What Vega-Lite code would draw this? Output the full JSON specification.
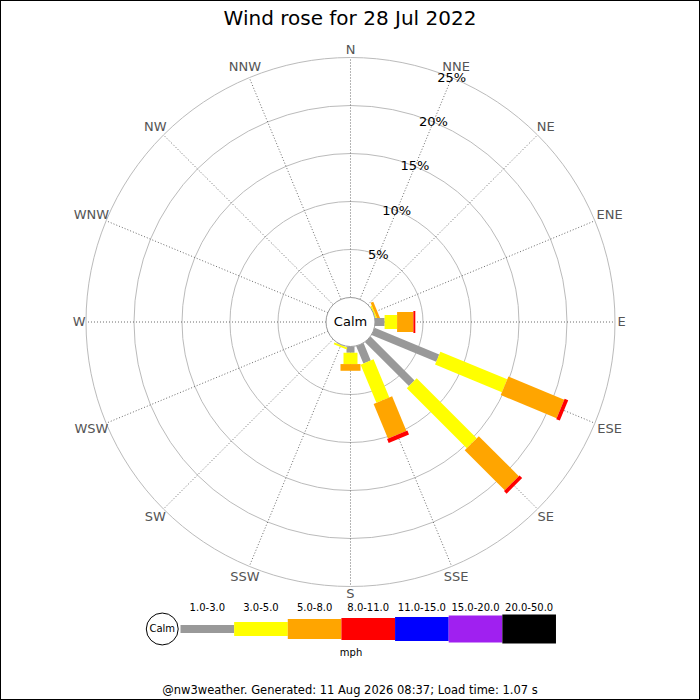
{
  "$schema": "https://vega.github.io/schema/vega-lite/v6.json",
  "width": 700,
  "height": 700,
  "padding": 0,
  "autosize": "none",
  "background": "white",
  "config": {
    "view": {"stroke": "black", "strokeWidth": 2},
    "font": "DejaVu Sans",
    "legend": {"disable": true}
  },
  "title": {
    "text": "Wind rose for 28 Jul 2022",
    "fontSize": 20,
    "fontWeight": "normal",
    "color": "black",
    "anchor": "middle",
    "frame": "group",
    "baseline": "alphabetic",
    "offset": -27,
    "dy": 18
  },
  "params": [{"name": "calm", "value": 2.552}],
  "datasets": {
    "bins": [
      {"bin": "1.0-3.0", "lo": 1},
      {"bin": "3.0-5.0", "lo": 3},
      {"bin": "5.0-8.0", "lo": 5},
      {"bin": "8.0-11.0", "lo": 8},
      {"bin": "11.0-15.0", "lo": 11},
      {"bin": "15.0-20.0", "lo": 15},
      {"bin": "20.0-50.0", "lo": 20}
    ],
    "dirs": [
      {"dir": "N", "angle": 0},
      {"dir": "NNE", "angle": 22.5},
      {"dir": "NE", "angle": 45},
      {"dir": "ENE", "angle": 67.5},
      {"dir": "E", "angle": 90},
      {"dir": "ESE", "angle": 112.5},
      {"dir": "SE", "angle": 135},
      {"dir": "SSE", "angle": 157.5},
      {"dir": "S", "angle": 180},
      {"dir": "SSW", "angle": 202.5},
      {"dir": "SW", "angle": 225},
      {"dir": "WSW", "angle": 247.5},
      {"dir": "W", "angle": 270},
      {"dir": "WNW", "angle": 292.5},
      {"dir": "NW", "angle": 315},
      {"dir": "NNW", "angle": 337.5}
    ],
    "rings": [
      {"pct": 5}, {"pct": 10}, {"pct": 15}, {"pct": 20}, {"pct": 25}
    ],
    "rose": [
      {"dir": "ENE", "bin": "3.0-5.0", "pct": 0.15},
      {"dir": "ENE", "bin": "5.0-8.0", "pct": 0.3},
      {"dir": "E", "bin": "1.0-3.0", "pct": 1.0},
      {"dir": "E", "bin": "3.0-5.0", "pct": 1.3},
      {"dir": "E", "bin": "5.0-8.0", "pct": 1.7},
      {"dir": "E", "bin": "8.0-11.0", "pct": 0.2},
      {"dir": "ESE", "bin": "1.0-3.0", "pct": 7.28},
      {"dir": "ESE", "bin": "3.0-5.0", "pct": 7.54},
      {"dir": "ESE", "bin": "5.0-8.0", "pct": 6.3},
      {"dir": "ESE", "bin": "8.0-11.0", "pct": 0.4},
      {"dir": "SE", "bin": "1.0-3.0", "pct": 6.47},
      {"dir": "SE", "bin": "3.0-5.0", "pct": 8.84},
      {"dir": "SE", "bin": "5.0-8.0", "pct": 5.9},
      {"dir": "SE", "bin": "8.0-11.0", "pct": 0.38},
      {"dir": "SSE", "bin": "1.0-3.0", "pct": 1.96},
      {"dir": "SSE", "bin": "3.0-5.0", "pct": 4.3},
      {"dir": "SSE", "bin": "5.0-8.0", "pct": 3.9},
      {"dir": "SSE", "bin": "8.0-11.0", "pct": 0.45},
      {"dir": "S", "bin": "1.0-3.0", "pct": 0.65},
      {"dir": "S", "bin": "3.0-5.0", "pct": 1.18},
      {"dir": "S", "bin": "5.0-8.0", "pct": 0.7},
      {"dir": "SSW", "bin": "1.0-3.0", "pct": 0.05},
      {"dir": "SSW", "bin": "3.0-5.0", "pct": 0.2}
    ]
  },
  "layer": [
    {
      "layer": [
        {
          "data": {"name": "rings"},
          "transform": [{"calculate": "calm + datum.pct", "as": "rr"}],
          "mark": {"type": "arc", "theta": 0, "theta2": 6.2832, "fillOpacity": 0, "stroke": "#bbbbbb", "strokeWidth": 1},
          "encoding": {
            "x": {"datum": 0, "type": "quantitative", "scale": {"domain": [-36.51, 36.406], "nice": false, "zero": false}, "axis": null},
            "y": {"datum": 0, "type": "quantitative", "scale": {"domain": [-39.375, 33.542], "nice": false, "zero": false}, "axis": null},
            "radius": {"field": "rr", "type": "quantitative", "stack": null, "scale": {"type": "linear", "domain": [0, 10], "range": [0, 96]}}
          }
        },
        {
          "data": {"name": "dirs"},
          "transform": [
            {"calculate": "calm * sin(datum.angle * PI / 180)", "as": "x0"},
            {"calculate": "calm * cos(datum.angle * PI / 180)", "as": "y0"},
            {"calculate": "(calm + 25) * sin(datum.angle * PI / 180)", "as": "x1"},
            {"calculate": "(calm + 25) * cos(datum.angle * PI / 180)", "as": "y1"}
          ],
          "mark": {"type": "rule", "stroke": "#444444", "strokeWidth": 0.8, "strokeDash": [1, 2]},
          "encoding": {
            "x": {"field": "x0", "type": "quantitative", "axis": null},
            "y": {"field": "y0", "type": "quantitative", "axis": null},
            "x2": {"field": "x1"},
            "y2": {"field": "y1"}
          }
        },
        {
          "data": {"name": "rose"},
          "transform": [
            {"lookup": "dir", "from": {"data": {"name": "dirs"}, "key": "dir", "fields": ["angle"]}},
            {"lookup": "bin", "from": {"data": {"name": "bins"}, "key": "bin", "fields": ["lo"]}},
            {"stack": "pct", "groupby": ["dir"], "sort": [{"field": "lo", "order": "ascending"}], "as": ["p0", "p1"]},
            {"calculate": "(calm + datum.p0) * sin(datum.angle * PI / 180)", "as": "x0"},
            {"calculate": "(calm + datum.p0) * cos(datum.angle * PI / 180)", "as": "y0"},
            {"calculate": "(calm + datum.p1) * sin(datum.angle * PI / 180)", "as": "x1"},
            {"calculate": "(calm + datum.p1) * cos(datum.angle * PI / 180)", "as": "y1"}
          ],
          "mark": {"type": "rule", "strokeCap": "butt"},
          "encoding": {
            "x": {"field": "x0", "type": "quantitative", "axis": null},
            "y": {"field": "y0", "type": "quantitative", "axis": null},
            "x2": {"field": "x1"},
            "y2": {"field": "y1"},
            "color": {
              "field": "bin", "type": "nominal",
              "scale": {
                "domain": ["1.0-3.0", "3.0-5.0", "5.0-8.0", "8.0-11.0", "11.0-15.0", "15.0-20.0", "20.0-50.0"],
                "range": ["#999999", "#ffff00", "#ffa500", "#ff0000", "#0000ff", "#a020f0", "#000000"]
              }
            },
            "strokeWidth": {
              "field": "bin", "type": "ordinal",
              "scale": {
                "type": "ordinal",
                "domain": ["1.0-3.0", "3.0-5.0", "5.0-8.0", "8.0-11.0", "11.0-15.0", "15.0-20.0", "20.0-50.0"],
                "range": [8, 14, 20, 22, 24, 27, 29]
              }
            }
          }
        },
        {
          "data": {"values": [{"label": "Calm"}]},
          "transform": [{"calculate": "calm", "as": "rr"}],
          "mark": {"type": "arc", "theta": 0, "theta2": 6.2832, "fill": "white", "stroke": "#999999", "strokeWidth": 1},
          "encoding": {
            "x": {"datum": 0, "type": "quantitative", "axis": null},
            "y": {"datum": 0, "type": "quantitative", "axis": null},
            "radius": {"field": "rr", "type": "quantitative", "stack": null, "scale": {"type": "linear", "domain": [0, 10], "range": [0, 96]}}
          }
        },
        {
          "data": {"values": [{"label": "Calm"}]},
          "mark": {"type": "text", "fontSize": 13, "align": "center", "baseline": "middle", "color": "black"},
          "encoding": {
            "x": {"datum": 0, "type": "quantitative", "axis": null},
            "y": {"datum": 0, "type": "quantitative", "axis": null},
            "text": {"field": "label"}
          }
        },
        {
          "data": {"name": "rings"},
          "transform": [
            {"calculate": "datum.pct + '%'", "as": "label"},
            {"calculate": "(calm + datum.pct) * sin(22.5 * PI / 180)", "as": "lx"},
            {"calculate": "(calm + datum.pct) * cos(22.5 * PI / 180)", "as": "ly"}
          ],
          "mark": {"type": "text", "fontSize": 13, "align": "center", "baseline": "middle", "color": "black"},
          "encoding": {
            "x": {"field": "lx", "type": "quantitative", "axis": null},
            "y": {"field": "ly", "type": "quantitative", "axis": null},
            "text": {"field": "label"}
          }
        },
        {
          "data": {"name": "dirs"},
          "transform": [
            {"calculate": "calm + 25.26 + 0.44 * length(datum.dir) * abs(sin(datum.angle * PI / 180)) + 0.47 * abs(cos(datum.angle * PI / 180))", "as": "lr"},
            {"calculate": "datum.lr * sin(datum.angle * PI / 180)", "as": "lx"},
            {"calculate": "datum.lr * cos(datum.angle * PI / 180)", "as": "ly"}
          ],
          "mark": {"type": "text", "fontSize": 13, "color": "#555555", "align": "center", "baseline": "middle"},
          "encoding": {
            "x": {"field": "lx", "type": "quantitative", "axis": null},
            "y": {"field": "ly", "type": "quantitative", "axis": null},
            "text": {"field": "dir"}
          }
        }
      ]
    },
    {
      "layer": [
        {
          "data": {"name": "bins"},
          "transform": [
            {"window": [{"op": "row_number", "as": "k"}], "sort": [{"field": "lo"}]},
            {"calculate": "datum.k - 1", "as": "k0"}
          ],
          "mark": {"type": "rule", "strokeCap": "butt"},
          "encoding": {
            "x": {"field": "k0", "type": "quantitative", "scale": {"domain": [-3.365, 9.685], "nice": false, "zero": false}, "axis": null},
            "x2": {"field": "k"},
            "y": {"datum": 0, "type": "quantitative", "scale": {"domain": [-71, 629], "nice": false, "zero": false}, "axis": null},
            "color": {"field": "bin", "type": "nominal"},
            "strokeWidth": {
              "field": "bin", "type": "ordinal",
              "scale": {
                "type": "ordinal",
                "domain": ["1.0-3.0", "3.0-5.0", "5.0-8.0", "8.0-11.0", "11.0-15.0", "15.0-20.0", "20.0-50.0"],
                "range": [8, 14, 20, 22, 24, 27, 29]
              }
            }
          }
        },
        {
          "data": {"name": "bins"},
          "transform": [
            {"window": [{"op": "row_number", "as": "k"}], "sort": [{"field": "lo"}]},
            {"calculate": "datum.k - 0.5", "as": "kmid"}
          ],
          "mark": {"type": "text", "fontSize": 10, "align": "center", "baseline": "middle", "dy": -21, "color": "black"},
          "encoding": {
            "x": {"field": "kmid", "type": "quantitative", "axis": null},
            "y": {"datum": 0, "type": "quantitative", "axis": null},
            "text": {"field": "bin"}
          }
        },
        {
          "data": {"values": [{"label": "Calm"}]},
          "mark": {"type": "point", "shape": "circle", "size": 1018, "filled": false, "stroke": "black", "strokeWidth": 1, "opacity": 1},
          "encoding": {
            "x": {"datum": -0.34, "type": "quantitative", "axis": null},
            "y": {"datum": 0, "type": "quantitative", "axis": null}
          }
        },
        {
          "data": {"values": [{"label": "Calm"}]},
          "mark": {"type": "text", "fontSize": 10, "align": "center", "baseline": "middle", "color": "black"},
          "encoding": {
            "x": {"datum": -0.34, "type": "quantitative", "axis": null},
            "y": {"datum": 0, "type": "quantitative", "axis": null},
            "text": {"field": "label"}
          }
        },
        {
          "data": {"values": [{"unit": "mph"}]},
          "mark": {"type": "text", "fontSize": 10, "align": "center", "baseline": "middle", "dy": 24, "color": "black"},
          "encoding": {
            "x": {"datum": 3.18, "type": "quantitative", "axis": null},
            "y": {"datum": 0, "type": "quantitative", "axis": null},
            "text": {"field": "unit"}
          }
        },
        {
          "data": {"values": [{"note": "@nw3weather. Generated: 11 Aug 2026 08:37; Load time: 1.07 s"}]},
          "mark": {"type": "text", "fontSize": 11.5, "align": "center", "baseline": "middle", "dy": 62, "color": "black"},
          "encoding": {
            "x": {"datum": 3.16, "type": "quantitative", "axis": null},
            "y": {"datum": 0, "type": "quantitative", "axis": null},
            "text": {"field": "note"}
          }
        }
      ]
    }
  ],
  "resolve": {"scale": {"x": "independent", "y": "independent"}}
}
